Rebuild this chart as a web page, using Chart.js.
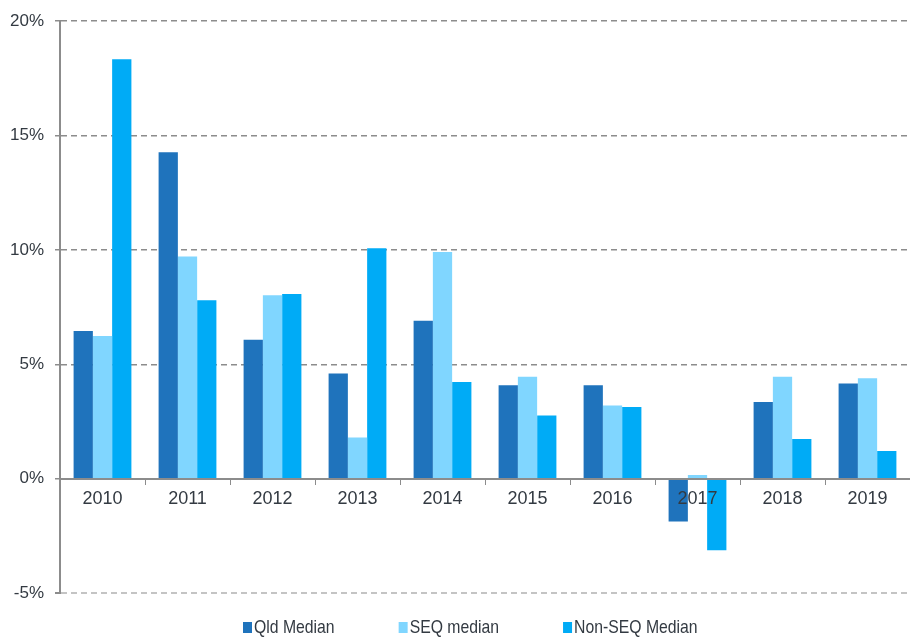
<!DOCTYPE html>
<html lang="en">
<head>
  <meta charset="UTF-8" />
  <title>Median price growth</title>
  <script src="https://cdn.jsdelivr.net/npm/chart.js"></script>
  <style>
    html, body { margin: 0; padding: 0; background: #fff; }
  </style>
</head>
<body>
<canvas id="chart" width="910" height="642"></canvas>

<script>
/* ====== data ====== */
const years      = ['2010','2011','2012','2013','2014','2015','2016','2017','2018','2019'];
const qldMedian  = [6.46, 14.27, 6.07, 4.60, 6.90, 4.08, 4.08, -1.87, 3.35, 4.16];
const seqMedian  = [6.24,  9.71, 8.02, 1.80, 9.91, 4.46, 3.20,  0.16, 4.46, 4.39];
const nonSeq     = [18.34, 7.80, 8.07, 10.07, 4.23, 2.76, 3.13, -3.13, 1.73, 1.21];
const yTicks     = [-5, 0, 5, 10, 15, 20];

const textColor = '#333a42';
const fontFam   = '"Liberation Sans", Arial, sans-serif';

/* legend drawn by hand at the bottom (wide gaps + narrow text like the original) */
const bottomLegend = {
  id: 'bottomLegend',
  afterDraw(chart) {
    const ctx = chart.ctx;
    const y = 627, squeeze = 0.83;
    let x = 243;
    ctx.save();
    ctx.font = '19px ' + fontFam;
    ctx.textBaseline = 'middle';
    chart.data.datasets.forEach(ds => {
      ctx.fillStyle = ds.backgroundColor;
      ctx.fillRect(x, y - 5, 9, 11);
      const w = ctx.measureText(ds.label).width * squeeze;
      ctx.save();
      ctx.translate(x + 11, y + 1);
      ctx.scale(squeeze, 1);
      ctx.fillStyle = textColor;
      ctx.fillText(ds.label, 0, 0);
      ctx.restore();
      x += 11 + w + 64;
    });
    ctx.restore();
  }
};

new Chart(document.getElementById('chart'), {
  type: 'bar',
  data: {
    labels: years,
    datasets: [
      { label: 'Qld Median',     data: qldMedian, backgroundColor: '#1f73bc' },
      { label: 'SEQ median',     data: seqMedian, backgroundColor: '#80d6ff' },
      { label: 'Non-SEQ Median', data: nonSeq,    backgroundColor: '#00abf6' }
    ]
  },
  options: {
    responsive: false,
    devicePixelRatio: 1,
    animation: false,
    layout: { padding: { top: 15, right: 0, bottom: 49, left: 0 } },
    datasets: { bar: { categoryPercentage: 0.68, barPercentage: 1.0 } },
    plugins: { legend: { display: false }, tooltip: { enabled: false } },
    scales: {
      x: {
        position: { y: 0 },
        grid: { drawOnChartArea: false, drawTicks: true, tickLength: 5, color: '#8c8c8c', offset: true, z: 1 },
        border: { color: '#8c8c8c', width: 2, z: 1 },
        ticks: { color: textColor, font: { family: fontFam, size: 18 }, padding: 5, maxRotation: 0, z: 1 }
      },
      y: {
        min: -5, max: 20,
        afterBuildTicks: s => { s.ticks = yTicks.map(v => ({ value: v })); },
        afterFit: s => { s.width = 60; },
        grid: {
          color: c => c.tick.value === 0 ? 'rgba(0,0,0,0)' : (c.tick.value === -5 ? '#c4c4c4' : '#8c8c8c'),
          lineWidth: c => c.tick.value === -5 ? 2 : 1.5,
          tickLength: 5,
          tickColor: '#8c8c8c'
        },
        border: { color: '#8c8c8c', width: 2, dash: [6, 4] },
        ticks: { color: textColor, font: { family: fontFam, size: 17 }, padding: 11, callback: v => v + '%' }
      }
    }
  },
  plugins: [bottomLegend]
});
</script>
</body>
</html>
